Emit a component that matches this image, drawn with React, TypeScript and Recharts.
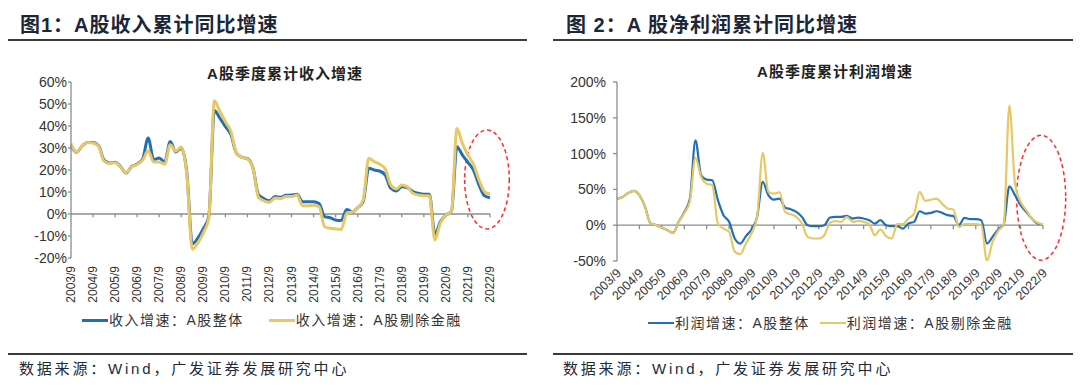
import React from 'react';
import { LineChart, Line, XAxis, YAxis, ReferenceLine, ReferenceArea, Legend } from 'recharts';

const quarters = [
  '2003/9', '2003/12',
  '2004/3', '2004/6', '2004/9', '2004/12',
  '2005/3', '2005/6', '2005/9', '2005/12',
  '2006/3', '2006/6', '2006/9', '2006/12',
  '2007/3', '2007/6', '2007/9', '2007/12',
  '2008/3', '2008/6', '2008/9', '2008/12',
  '2009/3', '2009/6', '2009/9', '2009/12',
  '2010/3', '2010/6', '2010/9', '2010/12',
  '2011/3', '2011/6', '2011/9', '2011/12',
  '2012/3', '2012/6', '2012/9', '2012/12',
  '2013/3', '2013/6', '2013/9', '2013/12',
  '2014/3', '2014/6', '2014/9', '2014/12',
  '2015/3', '2015/6', '2015/9', '2015/12',
  '2016/3', '2016/6', '2016/9', '2016/12',
  '2017/3', '2017/6', '2017/9', '2017/12',
  '2018/3', '2018/6', '2018/9', '2018/12',
  '2019/3', '2019/6', '2019/9', '2019/12',
  '2020/3', '2020/6', '2020/9', '2020/12',
  '2021/3', '2021/6', '2021/9', '2021/12',
  '2022/3', '2022/6', '2022/9',
];

const yearTicks = [
  '2003/9', '2004/9', '2005/9', '2006/9', '2007/9', '2008/9', '2009/9', '2010/9', '2011/9', '2012/9',
  '2013/9', '2014/9', '2015/9', '2016/9', '2017/9', '2018/9', '2019/9', '2020/9', '2021/9', '2022/9',
];

// 收入累计同比增速 (%)
const revenueAll = [
  31, 28,
  30.8, 32.5, 32.5, 31,
  24.5, 23.2, 23.5, 21.6,
  18.6, 21.6, 22.7, 25,
  34.5, 24.7, 25.5, 23.6,
  33, 28.2, 30, 19,
  -13.5, -11, -6.7, -1,
  47, 43.6, 39.8, 36,
  27.7, 25.8, 25.2, 21,
  8.8, 7, 6, 8,
  7.6, 8.5, 8.6, 9,
  5.6, 5.6, 5.6, 4.8,
  -1.2, -1.7, -2.7, -3,
  2.1, 1, 2.9, 5.6,
  20.8, 20, 19.5, 17.7,
  11.7, 10.5, 12.4, 12,
  10.2, 9.4, 9, 9,
  -9.2, -3.5, -0.5, 1,
  30.6, 26.8, 23.5, 20,
  13.2, 8.3, 7.4,
];

const revenueExFin = [
  32, 28,
  30.8, 32.5, 32.3, 30.8,
  24, 23, 23.3, 21.5,
  18.8, 21.5, 22.5, 24.5,
  28.8, 23.6, 23.6, 22.7,
  31.5, 28.5, 30.5, 18,
  -16, -13.2, -8.6, -1.8,
  51.5, 46.7, 42, 37.6,
  27.7, 25.8, 25, 21,
  7.6, 6, 5.3, 7.3,
  7, 8, 7.9, 8.6,
  3.8, 3.8, 4, 3.3,
  -5.8, -6.5, -6.8, -7,
  0.3, 1, 2.9, 6.4,
  25.3, 23.8, 22.6, 20.5,
  13.2, 11.4, 13.2, 12.4,
  9.4, 8.6, 8.3, 8.3,
  -11.8, -4.2, -0.5, 1,
  38.9, 32, 26.8, 22.6,
  15.5, 10.2, 9.1,
];

// 利润累计同比增速 (%)
const profitAll = [
  37, 39.5,
  45, 48, 42, 25.6,
  2.3, 0, -3.3, -7,
  -10.7, 4.7, 18, 37,
  118.6, 69.8, 63.7, 62.8,
  35, 14, 4.7, -18.6,
  -25.6, -15.3, -6, 11.6,
  60.5, 42, 35.8, 37,
  24.6, 22.3, 18.6, 11.6,
  0, -1.4, -1.4, 0,
  10.7, 11.6, 11.6, 13,
  9.3, 10.7, 9.3, 7,
  2.3, 7, 0, -1.4,
  -1.4, -4.7, 2.3, 4.7,
  19.5, 16.3, 17.2, 19.5,
  17.2, 14, 13, 0,
  10.2, 8.4, 8.4, 7,
  -25.6, -16.3, -6, 1.4,
  54.4, 42, 28, 18.6,
  9.3, 2.3, 1,
];

const profitExFin = [
  37, 39.5,
  45, 48, 42, 25.6,
  2.3, 0, -3.3, -7,
  -10.7, 4.7, 17, 33,
  94.4, 67.4, 58, 55.8,
  2.3, -4.7, -9.3, -37,
  -40.5, -25.6, -11.6, 11.6,
  101, 46.5, 44, 46,
  18.6, 15.3, 11.6, 2.3,
  -16.3, -18.6, -18.6, -14,
  3.3, 5.6, 4.7, 11.6,
  4.7, 6, 4.7, 1.4,
  -14, -6, -15.3, -18.6,
  1.4, 1.4, 9.3, 16.3,
  46.5, 34, 35.8, 37.2,
  30.2, 23.3, 21.9, -2.3,
  1.4, 1.4, 1.4, 0,
  -50, -23.3, -8, 1.4,
  167, 58, 32.6, 21,
  9.3, 3.7, 1,
];

const revenueTicks = [-20, -10, 0, 10, 20, 30, 40, 50, 60];
const profitTicks = [-50, 0, 50, 100, 150, 200];

const revenueNames = ['收入增速：A股整体', '收入增速：A股剔除金融'];
const profitNames = ['利润增速：A股整体', '利润增速：A股剔除金融'];
const seriesOrder = ['all', 'exFin'];

const BLUE = '#2270b3';
const YELLOW = '#e8c766';
const AXIS = '#8c8c8c';
const LATIN = '"Liberation Sans", Arial, "Noto Sans CJK SC", sans-serif';
const CJK = '"Liberation Sans", "Noto Sans CJK SC", sans-serif';

const revenueData = quarters.map((q, i) => ({ i, q, all: revenueAll[i], exFin: revenueExFin[i] }));
const profitData = quarters.map((q, i) => ({ i, q, all: profitAll[i], exFin: profitExFin[i] }));
const tickIdx = yearTicks.map((t) => quarters.indexOf(t));

const VerticalTick = (props: any) => {
  const { x, y, payload } = props;
  return (
    <text
      x={x}
      y={y}
      transform={`rotate(-90, ${x}, ${y})`}
      textAnchor="end"
      dominantBaseline="central"
      fontSize={12}
      fill="#333"
      fontFamily={LATIN}
    >
      {quarters[payload.value]}
    </text>
  );
};

const DiagonalTick = (props: any) => {
  const { x, y, payload } = props;
  return (
    <text
      x={x + 2}
      y={y}
      transform={`rotate(-45, ${x + 2}, ${y})`}
      textAnchor="end"
      dominantBaseline="central"
      fontSize={12.5}
      fill="#333"
      fontFamily={LATIN}
    >
      {quarters[payload.value]}
    </text>
  );
};

const EllipseShape = (props: any) => {
  const { x, y, width, height } = props;
  return (
    <ellipse
      cx={x + width / 2}
      cy={y + height / 2}
      rx={Math.abs(width) / 2}
      ry={Math.abs(height) / 2}
      fill="none"
      stroke="#ff2b2b"
      strokeWidth={1.5}
      strokeDasharray="4 3"
    />
  );
};

const makeLegend = (gap: number, thick: number) => (props: any) => {
  const payload = [...(props.payload || [])].sort(
    (a: any, b: any) => seriesOrder.indexOf(a.dataKey) - seriesOrder.indexOf(b.dataKey)
  );
  return (
    <div style={{ display: 'flex', alignItems: 'center', whiteSpace: 'nowrap' }}>
      {payload.map((p: any, k: number) => (
        <div key={k} style={{ display: 'flex', alignItems: 'center', marginRight: k === 0 ? gap : 0 }}>
          <span style={{ display: 'inline-block', width: 26, height: thick, background: p.color }} />
          <span
            style={{
              marginLeft: 1,
              fontSize: 14,
              letterSpacing: 1.5,
              color: '#333',
              fontFamily: CJK,
              lineHeight: '20px',
            }}
          >
            {p.value}
          </span>
        </div>
      ))}
    </div>
  );
};

const yFmt = (v: number) => `${v}%`;

const heading: React.CSSProperties = {
  position: 'absolute',
  fontSize: 20,
  fontWeight: 700,
  letterSpacing: 1,
  color: '#1b2638',
  fontFamily: CJK,
  lineHeight: '20px',
  whiteSpace: 'nowrap',
};

const chartTitle: React.CSSProperties = {
  position: 'absolute',
  fontSize: 15,
  fontWeight: 700,
  letterSpacing: 1,
  color: '#222',
  fontFamily: CJK,
  lineHeight: '18px',
  textAlign: 'center',
  whiteSpace: 'nowrap',
};

const source: React.CSSProperties = {
  position: 'absolute',
  fontSize: 15,
  letterSpacing: 2.8,
  color: '#1f2a3a',
  fontFamily: CJK,
  lineHeight: '18px',
  whiteSpace: 'nowrap',
};

const rule = (left: number, top: number, width: number): React.CSSProperties => ({
  position: 'absolute',
  left,
  top,
  width,
  height: 2,
  background: '#3a3a3a',
});

export default function App() {
  return (
    <div
      style={{
        position: 'absolute',
        left: 0,
        top: 0,
        width: 1080,
        height: 391,
        background: '#fff',
        overflow: 'hidden',
      }}
    >
      {/* Left panel */}
      <div style={{ ...heading, left: 20, top: 15 }}>图1：A股收入累计同比增速</div>
      <div style={rule(8, 39, 519)} />
      <div style={{ ...chartTitle, left: 185, top: 65, width: 200 }}>A股季度累计收入增速</div>
      <div style={{ position: 'absolute', left: 0, top: 0 }}>
        <LineChart width={540} height={391} data={revenueData} margin={{ top: 82, right: 50, bottom: 83, left: 21 }}>
          <XAxis
            type="number"
            dataKey="i"
            domain={[0, 76]}
            ticks={tickIdx}
            interval={0}
            axisLine={false}
            tickLine={false}
            tickSize={0}
            tickMargin={8}
            height={50}
            tick={<VerticalTick />}
          />
          <YAxis
            domain={[-20, 60]}
            ticks={revenueTicks}
            tickFormatter={yFmt}
            width={50}
            axisLine={{ stroke: AXIS, strokeWidth: 1.3 }}
            tickLine={{ stroke: AXIS, strokeWidth: 1.3 }}
            tickSize={3}
            tickMargin={1}
            tick={{ fontSize: 14, fill: '#333', fontFamily: LATIN }}
          />
          <ReferenceLine y={0} stroke={AXIS} strokeWidth={1.3} />
          {tickIdx.slice(1).map((t) => (
            <ReferenceLine
              key={t}
              segment={[
                { x: t, y: 0 },
                { x: t, y: -1.5 },
              ]}
              stroke={AXIS}
              strokeWidth={1.3}
            />
          ))}
          <Line
            type="monotone"
            dataKey="all"
            name={revenueNames[0]}
            stroke={BLUE}
            strokeWidth={3}
            dot={false}
            isAnimationActive={false}
          />
          <Line
            type="monotone"
            dataKey="exFin"
            name={revenueNames[1]}
            stroke={YELLOW}
            strokeWidth={3}
            dot={false}
            isAnimationActive={false}
          />
          <ReferenceArea x1={71.4} x2={79.5} y1={-6.8} y2={38.2} ifOverflow="visible" shape={<EllipseShape />} />
          <Legend
            layout="horizontal"
            verticalAlign="middle"
            align="center"
            itemSorter="dataKey"
            wrapperStyle={{ top: 310, left: 82, width: 420, height: 20 }}
            content={makeLegend(25, 3)}
          />
        </LineChart>
      </div>
      <div style={rule(8, 353, 519)} />
      <div style={{ ...source, left: 19, top: 360 }}>数据来源：Wind，广发证券发展研究中心</div>

      {/* Right panel */}
      <div style={{ ...heading, left: 566, top: 15 }}>图 2：A 股净利润累计同比增速</div>
      <div style={rule(553, 39, 520)} />
      <div style={{ ...chartTitle, left: 735, top: 63, width: 200 }}>A股季度累计利润增速</div>
      <div style={{ position: 'absolute', left: 540, top: 0 }}>
        <LineChart width={540} height={391} data={profitData} margin={{ top: 82, right: 37, bottom: 80, left: 17 }}>
          <XAxis
            type="number"
            dataKey="i"
            domain={[0, 76]}
            ticks={tickIdx}
            interval={0}
            axisLine={false}
            tickLine={false}
            tickSize={0}
            tickMargin={10}
            height={50}
            tick={<DiagonalTick />}
          />
          <YAxis
            domain={[-50, 200]}
            allowDataOverflow
            ticks={profitTicks}
            tickFormatter={yFmt}
            width={60}
            axisLine={{ stroke: AXIS, strokeWidth: 1.3 }}
            tickLine={{ stroke: AXIS, strokeWidth: 1.3 }}
            tickSize={4}
            tickMargin={7}
            tick={{ fontSize: 14, fill: '#333', fontFamily: LATIN }}
          />
          <ReferenceLine y={0} stroke={AXIS} strokeWidth={1.3} />
          {tickIdx.slice(1).map((t) => (
            <ReferenceLine
              key={t}
              segment={[
                { x: t, y: 0 },
                { x: t, y: -5.5 },
              ]}
              stroke={AXIS}
              strokeWidth={1.3}
            />
          ))}
          <Line
            type="monotone"
            dataKey="all"
            name={profitNames[0]}
            stroke={BLUE}
            strokeWidth={2.2}
            dot={false}
            isAnimationActive={false}
          />
          <Line
            type="monotone"
            dataKey="exFin"
            name={profitNames[1]}
            stroke={YELLOW}
            strokeWidth={2.2}
            dot={false}
            isAnimationActive={false}
          />
          <ReferenceArea x1={71.3} x2={80.05} y1={-48.8} y2={125.5} ifOverflow="visible" shape={<EllipseShape />} />
          <Legend
            layout="horizontal"
            verticalAlign="middle"
            align="center"
            itemSorter="dataKey"
            wrapperStyle={{ top: 313, left: 108, width: 420, height: 20 }}
            content={makeLegend(10, 2.5)}
          />
        </LineChart>
      </div>
      <div style={rule(553, 353, 520)} />
      <div style={{ ...source, left: 563, top: 360 }}>数据来源：Wind，广发证券发展研究中心</div>
    </div>
  );
}
